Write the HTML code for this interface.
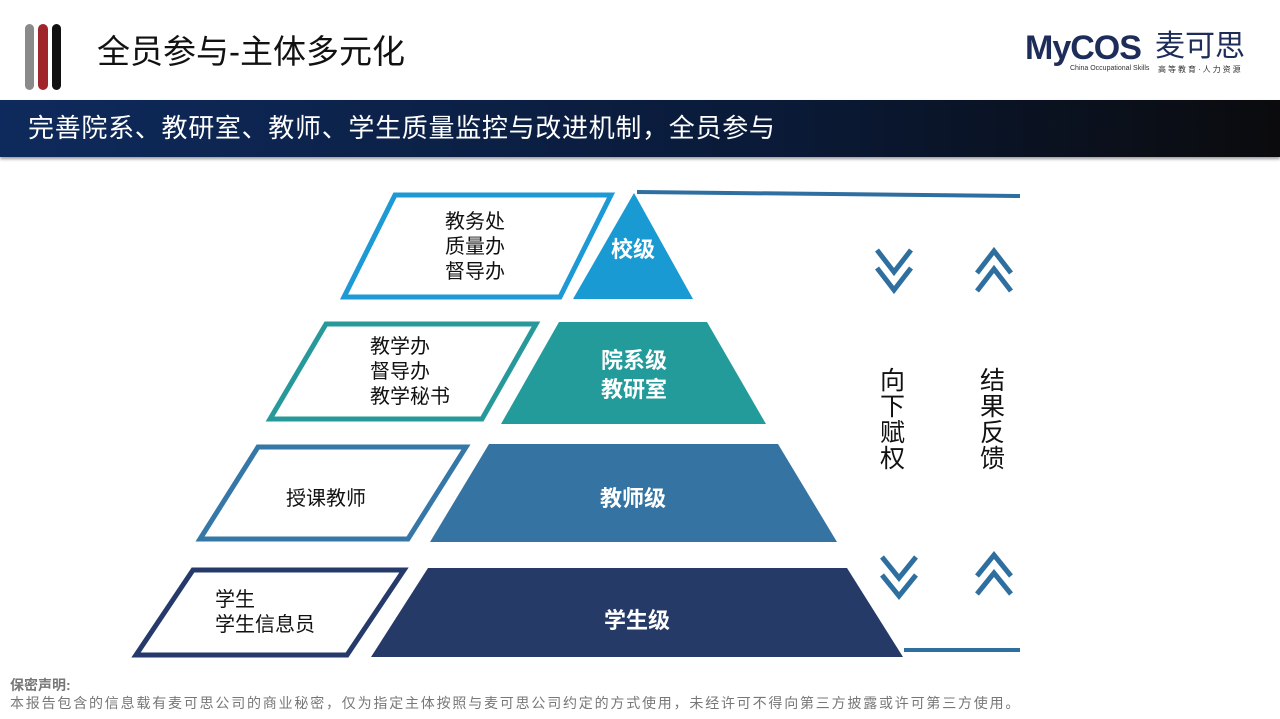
<!DOCTYPE html>
<html><head><meta charset="utf-8"><style>
body{margin:0;width:1280px;height:719px;overflow:hidden;background:#fff;font-family:"Liberation Sans","Noto Sans CJK SC",sans-serif;position:relative}
.abs{position:absolute}
</style></head><body>
<div class="abs" style="left:25px;top:24px;width:9px;height:66px;background:#8a8a8a;border-radius:5px"></div>
<div class="abs" style="left:38px;top:24px;width:10px;height:66px;background:#a0252a;border-radius:5px"></div>
<div class="abs" style="left:52px;top:24px;width:9px;height:66px;background:#111;border-radius:5px"></div>
<div class="abs" style="left:97px;top:32px;font-size:33px;color:#111;line-height:40px">全员参与-主体多元化</div>
<div class="abs" style="left:1025px;top:28px;font-size:34px;font-weight:bold;color:#1e2c5a;line-height:40px;letter-spacing:-1px">MyCOS</div>
<div class="abs" style="left:1155px;top:29px;font-size:30px;color:#1e2c5a;line-height:36px">麦可思</div>
<div class="abs" style="left:1070px;top:65px;font-size:7px;color:#333">China Occupational Skills</div>
<div class="abs" style="left:1158px;top:64px;font-size:8px;color:#333;letter-spacing:2px">高等教育·人力资源</div>
<div class="abs" style="left:0;top:100px;width:1280px;height:57px;background:linear-gradient(90deg,#0e2a5c,#0a1a38 60%,#0b0b0d);box-shadow:0 2px 3px #999"></div>
<div class="abs" style="left:28px;top:112px;font-size:26px;letter-spacing:0.7px;color:#fff;line-height:32px;white-space:nowrap">完善院系、教研室、教师、学生质量监控与改进机制，全员参与</div>
<svg class="abs" style="left:0;top:0" width="1280" height="719">
<line x1="637" y1="192" x2="1020" y2="196" stroke="#2e6fa0" stroke-width="4"/>
<line x1="904" y1="650" x2="1020" y2="650" stroke="#2e6fa0" stroke-width="4"/>
<polygon points="344,297 395,195 611,195 560,297" fill="#fff" stroke="#1d9ad5" stroke-width="5"/>
<polygon points="573,299 634,193 693,299" fill="#1a9ad3"/>
<polygon points="270,419 326,324 536,324 482,419" fill="#fff" stroke="#28999a" stroke-width="5"/>
<polygon points="501,424 559,322 707,322 766,424" fill="#239b9a"/>
<polygon points="200,539 258,447 466,447 408,539" fill="#fff" stroke="#3577a6" stroke-width="5"/>
<polygon points="430,542 489,444 778,444 837,542" fill="#3574a2"/>
<polygon points="136,655 193,570 404,570 347,655" fill="#fff" stroke="#253a6b" stroke-width="5"/>
<polygon points="371,657 428,568 847,568 903,657" fill="#263a68"/>
<g fill="none" stroke="#2e6fa0" stroke-width="5">
<polyline points="877,250 894,272 911,250"/><polyline points="877,268 894,290 911,268"/>
<polyline points="977,273 994,251 1011,273"/><polyline points="977,291 994,269 1011,291"/>
<polyline points="882,557 899,578 916,557"/><polyline points="882,575 899,596 916,575"/>
<polyline points="977,576 994,555 1011,576"/><polyline points="977,594 994,573 1011,594"/>
</g>
</svg>
<div class="abs" style="left:430px;top:210px;width:90px;text-align:center;font-size:20px;line-height:25px;color:#111">教务处<br>质量办<br>督导办</div>
<div class="abs" style="left:593px;top:232px;width:80px;text-align:center;font-size:22px;font-weight:bold;color:#fff">校级</div>
<div class="abs" style="left:370px;top:335px;font-size:20px;line-height:25px;color:#111">教学办<br>督导办<br>教学秘书</div>
<div class="abs" style="left:584px;top:346px;width:100px;text-align:center;font-size:22px;line-height:29px;font-weight:bold;color:#fff">院系级<br>教研室</div>
<div class="abs" style="left:286px;top:482px;font-size:20px;color:#111">授课教师</div>
<div class="abs" style="left:583px;top:481px;width:100px;text-align:center;font-size:22px;font-weight:bold;color:#fff">教师级</div>
<div class="abs" style="left:215px;top:588px;font-size:20px;line-height:25px;color:#111">学生<br>学生信息员</div>
<div class="abs" style="left:587px;top:603px;width:100px;text-align:center;font-size:22px;font-weight:bold;color:#fff">学生级</div>
<div class="abs" style="left:880px;top:368px;width:28px;font-size:25px;line-height:26px;color:#111">向下赋权</div>
<div class="abs" style="left:980px;top:368px;width:28px;font-size:25px;line-height:26px;color:#111">结果反馈</div>
<div class="abs" style="left:10px;top:675px;font-size:14px;font-weight:bold;color:#777">保密声明:</div>
<div class="abs" style="left:10px;top:693px;font-size:14px;letter-spacing:1.8px;color:#777;white-space:nowrap">本报告包含的信息载有麦可思公司的商业秘密，仅为指定主体按照与麦可思公司约定的方式使用，未经许可不得向第三方披露或许可第三方使用。</div>
</body></html>
